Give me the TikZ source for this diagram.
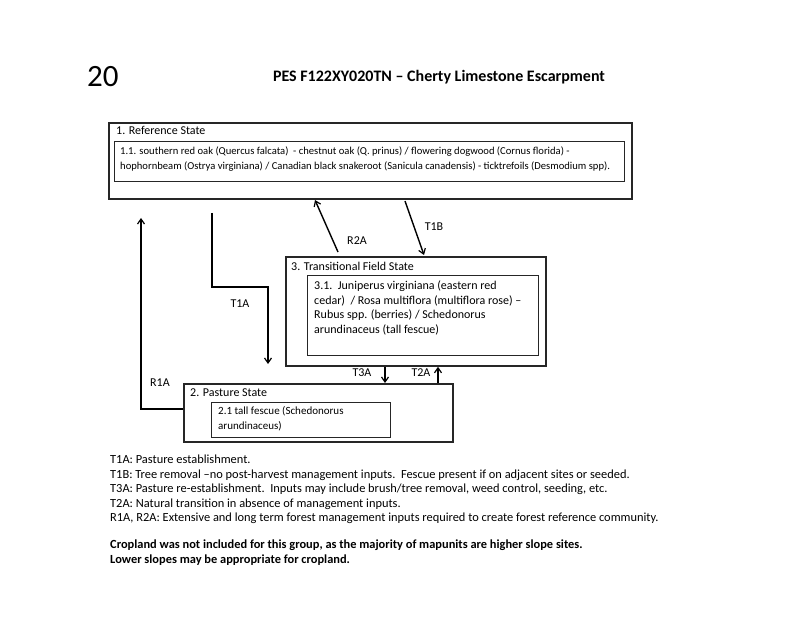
\documentclass[tikz,border=0pt]{standalone}
\usepackage{fontspec}
\setmainfont{Carlito}
\usetikzlibrary{arrows.meta}
\begin{document}
\begin{tikzpicture}[x=1pt,y=-1pt,
  outerbox/.style={draw=black!85,line width=1.8pt,anchor=north west,inner sep=0pt},
  innerbox/.style={draw=black!85,line width=1.3pt,anchor=north west,inner sep=0pt},
  txt/.style={anchor=west,inner sep=0pt,font=\fontsize{12}{14}\selectfont,text height=0.75em,text depth=0.25em},
  smalltxt/.style={txt,font=\fontsize{10.6}{13}\selectfont},
  legtxt/.style={txt,font=\fontsize{12.4}{14}\selectfont},
  legbold/.style={txt,font=\bfseries\fontsize{12.4}{14}\selectfont},
  lbl/.style={anchor=center,inner sep=0pt,font=\fontsize{12}{14}\selectfont,text height=0.75em,text depth=0.25em},
  conn/.style={line width=1.4pt,-{Straight Barb[length=5pt,width=7pt,line width=1.2pt]}}]
\useasboundingbox (0,0) rectangle (800,617);
\fill[white] (0,0) rectangle (800,617);
% page number and title
\node[anchor=west,inner sep=0pt,font=\fontsize{31}{35}\selectfont] (num) at (87,77) {20};
\node[anchor=center,inner sep=0pt,font=\bfseries\fontsize{16}{19}\selectfont] (title) at (439,77) {PES F122XY020TN -- Cherty Limestone Escarpment};
% boxes
\node[outerbox,minimum width=523pt,minimum height=76pt] (ref) at (108,122) {};
\node[innerbox,minimum width=510pt,minimum height=40pt] (refin) at (114,141) {};
\node[outerbox,minimum width=260pt,minimum height=109pt] (trans) at (285,256) {};
\node[innerbox,minimum width=231pt,minimum height=80pt] (transin) at (307,275) {};
\node[outerbox,minimum width=269pt,minimum height=58pt] (past) at (183,383) {};
\node[innerbox,minimum width=179pt,minimum height=35pt] (pastin) at (211,402) {};
% box texts
\node[txt] (reft) at (116,132) {1. Reference State};
\node[smalltxt] (refl1) at (120,152) {1.1. southern red oak (Quercus falcata)\ \ - chestnut oak (Q. prinus) / flowering dogwood (Cornus florida) -};
\node[smalltxt] (refl2) at (120,167) {hophornbeam (Ostrya virginiana) / Canadian black snakeroot (Sanicula canadensis) - ticktrefoils (Desmodium spp).};
\node[txt] (transt) at (291,268) {3. Transitional Field State};
\node[txt] (tl1) at (314,287) {3.1.\ \ Juniperus virginiana (eastern red};
\node[txt] (tl2) at (314,302) {cedar)\ \ / Rosa multiflora (multiflora rose) --};
\node[txt] (tl3) at (314,316) {Rubus spp. (berries) / Schedonorus};
\node[txt] (tl4) at (314,331) {arundinaceus (tall fescue)};
\node[txt] (pastt) at (190,394) {2. Pasture State};
\node[txt,font=\fontsize{11}{13}\selectfont] (pl1) at (218,412) {2.1 tall fescue (Schedonorus};
\node[txt,font=\fontsize{11}{13}\selectfont] (pl2) at (218,427) {arundinaceus)};
% connector coordinates
\coordinate (r1aend) at (141,218);
\coordinate (t1astart) at (212,213);
\coordinate (t1abend) at (268,287);
\coordinate (r2astart) at (338,252);
\coordinate (r2aend) at (315,200);
\coordinate (t1bstart) at (405,201);
\coordinate (t1bend) at (424,255);
\coordinate (t1aend) at (268,364);
% connectors
\draw[conn] (past.west |- 0,409) -| (r1aend);
\draw[conn] (t1astart) |- (t1abend) -- (t1aend);
\draw[conn] (r2astart) -- (r2aend);
\draw[conn] (t1bstart) -- (t1bend);
\draw[conn] (trans.south -| 385,0) -- (past.north -| 385,0);
\draw[conn] (past.north -| 438,0) -- (trans.south -| 438,0);
% connector labels
\node[lbl] (lr1a) at (160,384) {R1A};
\node[lbl] (lt1a) at (240,305) {T1A};
\node[lbl] (lr2a) at (357,242) {R2A};
\node[lbl] (lt1b) at (434,228) {T1B};
\node[lbl] (lt3a) at (362,374) {T3A};
\node[lbl] (lt2a) at (421,374) {T2A};
% legend
\node[legtxt] (g1) at (110,461) {T1A: Pasture establishment.};
\node[legtxt] (g2) at (110,476) {T1B: Tree removal --no post-harvest management inputs.\ \ Fescue present if on adjacent sites or seeded.};
\node[legtxt] (g3) at (110,490) {T3A: Pasture re-establishment.\ \ Inputs may include brush/tree removal, weed control, seeding, etc.};
\node[legtxt] (g4) at (110,505) {T2A: Natural transition in absence of management inputs.};
\node[legtxt] (g5) at (110,519) {R1A, R2A: Extensive and long term forest management inputs required to create forest reference community.};
\node[legbold] (b1) at (110,546) {Cropland was not included for this group, as the majority of mapunits are higher slope sites.};
\node[legbold] (b2) at (110,561) {Lower slopes may be appropriate for cropland.};
\end{tikzpicture}
\end{document}
